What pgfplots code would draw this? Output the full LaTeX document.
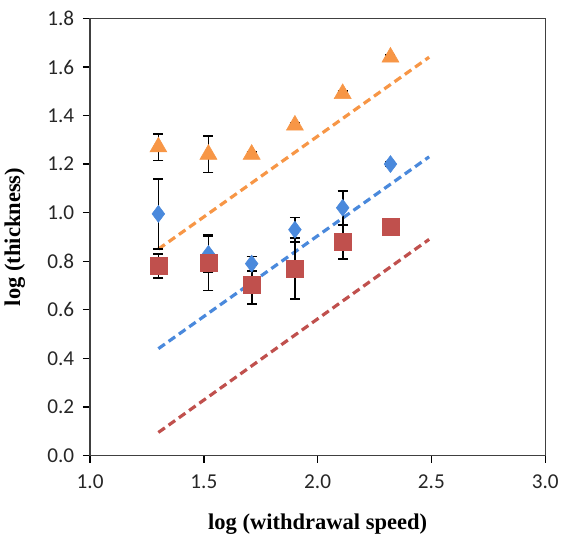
\documentclass[border=0pt]{standalone}
\usepackage{fontspec}
\setmainfont{Liberation Serif}
\newfontfamily\calibri{Carlito}
\usepackage{pgfplots}
\pgfplotsset{compat=1.18}

\definecolor{serorange}{HTML}{F79646}
\definecolor{serblue}{HTML}{4A89DC}
\definecolor{serred}{HTML}{C0504D}

\begin{document}
\begin{tikzpicture}
\begin{axis}[
    scale only axis,
    width=343.5pt, height=330pt,
    xmin=1, xmax=3, ymin=0, ymax=1.8,
    xtick={1,1.5,...,3}, ytick={0,0.2,...,1.8},
    tick align=outside, tick pos=left,
    major tick length=5.5pt,
    axis line style={draw=black!75, line width=1pt},
    tick style={black, line width=1pt},
    /pgf/number format/.cd, fixed, fixed zerofill, precision=1, assume math mode=true,
    /pgfplots/.cd,
    ticklabel style={font=\calibri\fontsize{16}{18}\selectfont, text=black!85},
    xticklabel style={yshift=-5.5pt},
    yticklabel style={xshift=-3pt},
    xlabel={log (withdrawal speed)},
    ylabel={log (thickness)},
    label style={font=\bfseries\fontsize{17}{20}\selectfont},
    xlabel style={yshift=-12pt},
    ylabel style={yshift=10pt},
    error bars/y dir=both, error bars/y explicit,
    error bars/error bar style={black, line width=1.3pt},
    error bars/error mark options={rotate=90, mark size=3.8pt, black, line width=1.3pt},
]

% trend lines
\addplot[serorange, dash pattern=on 6pt off 3.5pt, line width=2.4pt, forget plot]
coordinates {(1.30,0.85) (2.49,1.64)};
\addplot[serblue, dash pattern=on 6pt off 3.5pt, line width=2.4pt, forget plot]
coordinates {(1.30,0.44) (2.49,1.23)};
\addplot[serred, dash pattern=on 6pt off 3.5pt, line width=2.4pt, forget plot]
coordinates {(1.30,0.095) (2.49,0.89)};

% orange triangles
\addplot[only marks, mark=triangle*, mark size=7.4pt, color=serorange]
coordinates {
    (1.30,1.27) +- (0,0.055)
    (1.52,1.24) +- (0,0.075)
    (1.71,1.24) +- (0,0.01)
    (1.90,1.36) +- (0,0.01)
    (2.11,1.49) +- (0,0.01)
    (2.32,1.64) +- (0,0.01)
};

% blue diamonds
\addplot[only marks, mark=diamond*, mark size=6.4pt, color=serblue]
coordinates {
    (1.30,0.995) +- (0,0.145)
    (1.52,0.83) +- (0,0.075)
    (1.71,0.79) +- (0,0.03)
    (1.90,0.93) +- (0,0.05)
    (2.11,1.02) +- (0,0.07)
    (2.32,1.20) +- (0,0.01)
};

% red squares
\addplot[only marks, mark=square*, mark size=6.4pt, color=serred]
coordinates {
    (1.30,0.78) +- (0,0.05)
    (1.52,0.795) +- (0,0.115)
    (1.71,0.705) +- (0,0.08)
    (1.90,0.77) +- (0,0.125)
    (2.11,0.88) +- (0,0.07)
    (2.32,0.94) +- (0,0.005)
};

\end{axis}
\path (current bounding box.north) ++(0,5pt);
\end{tikzpicture}
\end{document}
